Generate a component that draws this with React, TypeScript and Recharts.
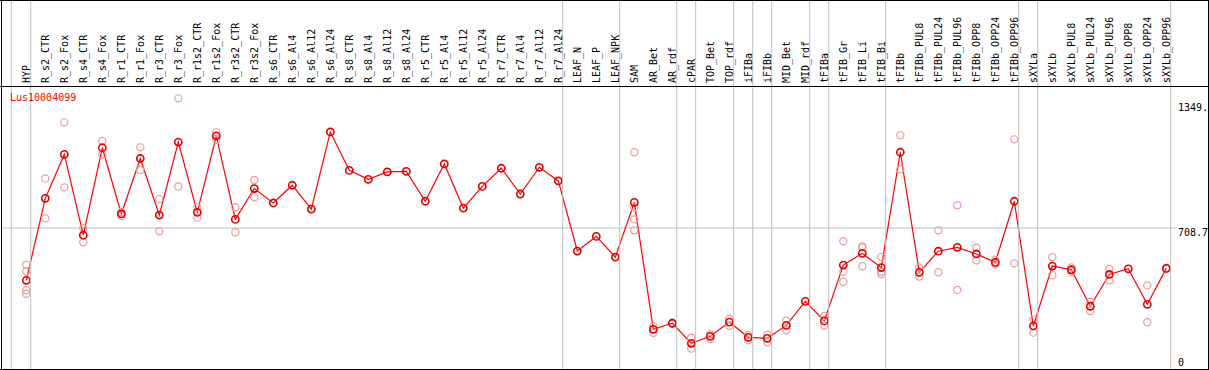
import React from 'react';
import { ComposedChart, Line, Scatter, XAxis, YAxis, ReferenceLine } from 'recharts';

const geneId = 'Lus10004099';

const categories = [
  'HYP', 'R_s2_CTR', 'R_s2_Fox', 'R_s4_CTR', 'R_s4_Fox', 'R_r1_CTR', 'R_r1_Fox', 'R_r3_CTR', 'R_r3_Fox',
  'R_r1s2_CTR', 'R_r1s2_Fox', 'R_r3s2_CTR', 'R_r3s2_Fox', 'R_s6_CTR', 'R_s6_Al4', 'R_s6_Al12', 'R_s6_Al24',
  'R_s8_CTR', 'R_s8_Al4', 'R_s8_Al12', 'R_s8_Al24', 'R_r5_CTR', 'R_r5_Al4', 'R_r5_Al12', 'R_r5_Al24',
  'R_r7_CTR', 'R_r7_Al4', 'R_r7_Al12', 'R_r7_Al24', 'LEAF_N', 'LEAF_P', 'LEAF_NPK', 'SAM', 'AR_Bet', 'AR_rdf',
  'cPAR', 'TOP_Bet', 'TOP_rdf', 'iFIBa', 'iFIBb', 'MID_Bet', 'MID_rdf', 'tFIBa', 'tFIB_Gr', 'tFIB_Li', 'tFIB_Bi',
  'tFIBb', 'tFIBb_PUL8', 'tFIBb_PUL24', 'tFIBb_PUL96', 'tFIBb_OPP8', 'tFIBb_OPP24', 'tFIBb_OPP96', 'sXYLa',
  'sXYLb', 'sXYLb_PUL8', 'sXYLb_PUL24', 'sXYLb_PUL96', 'sXYLb_OPP8', 'sXYLb_OPP24', 'sXYLb_OPP96',
];

const means = [
  441, 861, 1086, 672, 1120, 781, 1065, 775, 1149,
  789, 1181, 753, 911, 837, 928, 806, 1201,
  1004, 958, 996, 999, 846, 1037, 811, 922,
  1015, 883, 1020, 950, 591, 666, 560, 840, 190, 221,
  118, 154, 227, 149, 144, 210, 333, 233, 519, 579, 506,
  1097, 482, 590, 610, 576, 533, 846, 207,
  514, 495, 308, 471, 500, 318, 502,
];

const replicates: number[][] = [
  [521, 487, 390, 372], [963, 759], [1250, 917], [707, 636], [1155, 1085], [790, 772], [1122, 1006], [857, 692], [1373, 922],
  [815, 762], [1199, 1161], [815, 687], [955, 866], [], [], [], [],
  [], [], [], [], [], [], [], [],
  [], [], [], [], [], [], [], [1097, 815, 753, 697], [205, 172], [224, 218],
  [147, 91], [165, 140], [244, 208], [161, 134], [163, 124], [234, 185], [], [258, 209], [641, 485, 434], [615, 513, 609], [560, 485, 473],
  [1184, 1010], [506, 460], [697, 482], [825, 392], [608, 543], [547, 523], [1163, 528], [241, 173],
  [560, 467], [507, 485], [331, 284], [499, 441], [], [415, 226], [505, 499],
];

// index of the last category of each group (-1 = before the first)
const groupEnds = [-1, 0, 28, 31, 34, 35, 37, 38, 39, 41, 42, 45, 52, 53, 60];

const yTicks = [0, 708.7, 1349];
const yTickLabels = ['0', '708.7', '1349.'];

const lineData = categories.map((c, i) => ({ x: i, name: c, mean: means[i] }));
const repData = replicates.flatMap((arr, i) => arr.map((v) => ({ x: i, v })));

const W = 1209;
const H = 370;
const FONT = '"DejaVu Sans Mono", "Liberation Mono", monospace';
const GRID = '#c0c0c0';

function CatTick(props: any) {
  const { x, payload } = props;
  const i = payload.value as number;
  const label = categories[i];
  const lineXs: number[] = [];
  if (groupEnds.includes(i)) lineXs.push(x + 4.4);
  if (i === 0 && groupEnds.includes(-1)) lineXs.push(x - 15);
  return (
    <g>
      {lineXs.map((lx, k) => (
        <line key={k} x1={lx} x2={lx} y1={0} y2={369} stroke={GRID} strokeWidth={1} />
      ))}
      <text
        x={x + 3.8}
        y={83}
        transform={`rotate(-90, ${x + 3.8}, 83)`}
        textAnchor="start"
        fontFamily={FONT}
        fontSize={10}
        fill="#000"
      >
        {label}
      </text>
    </g>
  );
}

function ValTick(props: any) {
  const { y, payload } = props;
  const idx = yTicks.indexOf(payload.value);
  const dy = payload.value === 0 ? -0.9 : 7.5;
  return (
    <text x={1178} y={y + dy} textAnchor="start" fontFamily={FONT} fontSize={10} fill="#000">
      {yTickLabels[idx]}
    </text>
  );
}

const MeanDot = (props: any) => {
  const { cx, cy, index } = props;
  if (cx == null || cy == null) return null;
  return <circle key={index} cx={cx} cy={cy} r={3.6} fill="none" stroke="#e00000" strokeWidth={1.6} />;
};

const RepShape = (props: any) => {
  const { cx, cy } = props;
  return <circle cx={cx} cy={cy} r={3.6} fill="none" stroke="#f09a9a" strokeWidth={1.2} />;
};

export default function App() {
  return (
    <div style={{ position: 'absolute', left: 0, top: 0, width: W, height: H, background: '#fff' }}>
      <ComposedChart
        width={W}
        height={H}
        data={lineData}
        margin={{ top: 87, right: 2, bottom: 1, left: 1 }}
      >
        <XAxis
          xAxisId="cat"
          type="number"
          dataKey="x"
          orientation="top"
          mirror
          domain={[-1.3316, 62.142]}
          allowDataOverflow
          ticks={categories.map((_, i) => i)}
          interval={0}
          axisLine={false}
          tickLine={false}
          tick={<CatTick />}
        />
        <YAxis
          yAxisId="val"
          type="number"
          orientation="right"
          mirror
          domain={[-13.3, 1431.2]}
          allowDataOverflow
          ticks={yTicks}
          interval={0}
          axisLine={false}
          tickLine={false}
          tick={<ValTick />}
        />
        <ReferenceLine
          xAxisId="cat"
          yAxisId="val"
          segment={[{ x: -1.3316, y: 708.7 }, { x: 60.56, y: 708.7 }]}
          stroke={GRID}
          strokeWidth={1}
          ifOverflow="visible"
        />
        <Scatter
          xAxisId="cat"
          yAxisId="val"
          data={repData}
          dataKey="v"
          shape={<RepShape />}
          isAnimationActive={false}
        />
        <Line
          xAxisId="cat"
          yAxisId="val"
          data={lineData}
          dataKey="mean"
          type="linear"
          stroke="#ff0000"
          strokeWidth={1.2}
          dot={<MeanDot />}
          activeDot={false}
          isAnimationActive={false}
        />
      </ComposedChart>
      <svg
        width={W}
        height={H}
        style={{ position: 'absolute', left: 0, top: 0, pointerEvents: 'none' }}
      >
        <line x1={0} x2={W} y1={0.5} y2={0.5} stroke="#000" strokeWidth={1} />
        <line x1={0} x2={W} y1={86.5} y2={86.5} stroke="#000" strokeWidth={1} />
        <line x1={0} x2={W} y1={369.5} y2={369.5} stroke="#000" strokeWidth={1} />
        <line x1={1.5} x2={1.5} y1={0} y2={H} stroke="#000" strokeWidth={1} />
        <line x1={1208.5} x2={1208.5} y1={0} y2={H} stroke="#000" strokeWidth={1} />
        <text x={10} y={100.5} fontFamily={FONT} fontSize={10} fill="#ff0000">
          {geneId}
        </text>
      </svg>
    </div>
  );
}
